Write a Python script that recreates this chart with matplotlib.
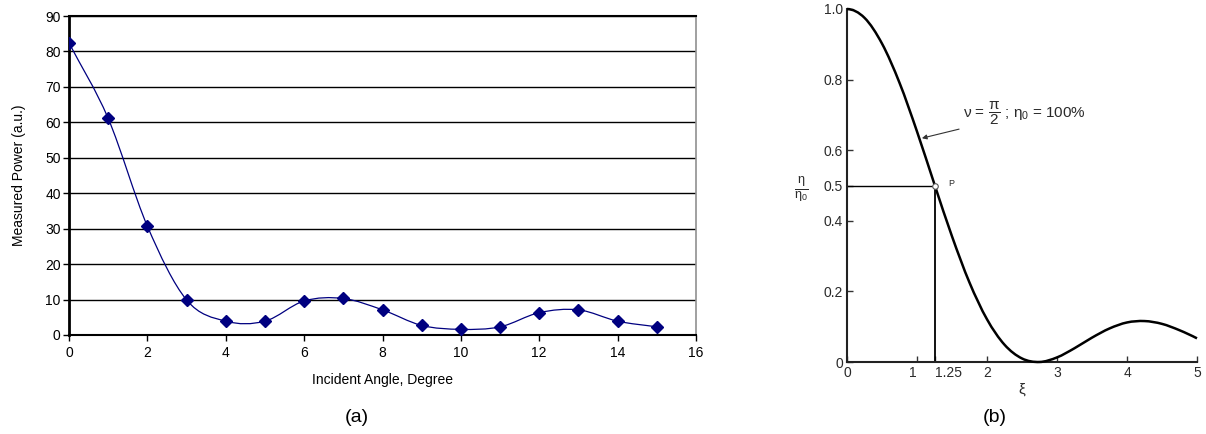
import numpy as np
import matplotlib
matplotlib.use("Agg")
import matplotlib.pyplot as plt
from matplotlib.path import Path
from matplotlib.patches import PathPatch

plt.rcParams['font.family'] = ['Liberation Sans', 'DejaVu Sans']
plt.rcParams['mathtext.fontset'] = 'custom'
plt.rcParams['mathtext.rm'] = 'Liberation Sans'
plt.rcParams['mathtext.it'] = 'Liberation Sans'
plt.rcParams['mathtext.bf'] = 'Liberation Sans:bold'

# ---- data (a) ----
angle = [0, 1, 2, 3, 4, 5, 6, 7, 8, 9, 10, 11, 12, 13, 14, 15]
power = [82.4, 61.1, 30.7, 9.9, 3.9, 3.9, 9.6, 10.3, 7.1, 2.7, 1.6, 2.3, 6.3, 7.1, 3.9, 2.3]
a_xticks = [0, 2, 4, 6, 8, 10, 12, 14, 16]
a_yticks = [0, 10, 20, 30, 40, 50, 60, 70, 80, 90]

# ---- data (b) ----
xi = [0, 0.25, 0.5, 0.75, 1.0, 1.25, 1.5, 1.75, 2.0, 2.25, 2.5, 2.75, 3.0,
      3.25, 3.5, 3.75, 4.0, 4.25, 4.5, 4.75, 5.0]
eta = [1.0, 0.975, 0.902, 0.791, 0.653, 0.503, 0.356, 0.225, 0.121, 0.049, 0.010,
       0.0, 0.013, 0.039, 0.069, 0.095, 0.112, 0.116, 0.108, 0.090, 0.067]
b_xticks = [0, 1, 1.25, 2, 3, 4, 5]
b_xlabels = ['0', '1', '1.25', '2', '3', '4', '5']
b_yticks = [0, 0.2, 0.4, 0.5, 0.6, 0.8, 1.0]
b_ylabels = ['0', '0.2', '0.4', '0.5', '0.6', '0.8', '1.0']
p_xi, p_eta = 1.25, 0.5


def smooth_path(xs, ys, parabolic_ends=False):
    x = np.asarray(xs, float)
    y = np.asarray(ys, float)
    n = len(x)
    m = np.zeros(n)
    for i in range(1, n - 1):
        m[i] = (y[i + 1] - y[i - 1]) / (x[i + 1] - x[i - 1])
    c0 = (y[1] - y[0]) / (x[1] - x[0])
    cn = (y[-1] - y[-2]) / (x[-1] - x[-2])
    if parabolic_ends:
        m[0] = 2 * c0 - m[1]
        m[-1] = 2 * cn - m[-2]
    else:
        m[0] = c0
        m[-1] = cn
    verts = [(x[0], y[0])]
    codes = [Path.MOVETO]
    for i in range(n - 1):
        h = (x[i + 1] - x[i]) / 3.0
        verts += [(x[i] + h, y[i] + h * m[i]),
                  (x[i + 1] - h, y[i + 1] - h * m[i + 1]),
                  (x[i + 1], y[i + 1])]
        codes += [Path.CURVE4] * 3
    return Path(verts, codes)


fig = plt.figure(figsize=(12.06, 4.34), dpi=100)

# ---------------- (a) ----------------
ax = fig.add_axes([69 / 1206, 1 - 335 / 434, 627 / 1206, 319 / 434])
ax.set_xlim(0, 16)
ax.set_ylim(0, 90)
for v in a_yticks[1:]:
    ax.axhline(v, color='black', lw=1.0, zorder=1)
ax.add_patch(PathPatch(smooth_path(angle, power), facecolor='none',
                       edgecolor='#000080', lw=0.9, zorder=3))
ax.plot(angle, power, linestyle='none', marker='D', markersize=6,
        color='#000080', zorder=4)
ax.set_xticks(a_xticks)
ax.set_yticks(a_yticks)
ax.tick_params(axis='both', labelsize=10, direction='out', length=4, width=1, color='black')
ax.tick_params(axis='x', pad=4)
ax.tick_params(axis='y', pad=2)
ax.spines['left'].set_linewidth(2)
ax.spines['bottom'].set_linewidth(1.5)
ax.spines['top'].set_linewidth(1.5)
ax.spines['right'].set_color('#909090')
ax.spines['right'].set_linewidth(1.2)
ax.set_xlabel('Incident Angle, Degree', fontsize=10, labelpad=9)
ax.set_ylabel('Measured Power (a.u.)', fontsize=10, labelpad=14)
fig.text(357 / 1206, 1 - 418 / 434, '(a)', fontsize=14, ha='center', va='center')

# ---------------- (b) ----------------
bx = fig.add_axes([847 / 1206, 1 - 362 / 434, 350 / 1206, 353 / 434])
bx.set_xlim(0, 5)
bx.set_ylim(0, 1.0)
tc = '#2a2a2a'
bx.add_patch(PathPatch(smooth_path(xi, eta, parabolic_ends=True), facecolor='none',
                       edgecolor='black', lw=1.8, zorder=3, clip_on=False))
bx.plot([0, p_xi], [p_eta, p_eta], color='black', lw=1.0)
bx.plot([p_xi, p_xi], [0, p_eta], color='black', lw=1.3)
bx.plot([p_xi], [p_eta], marker='o', markersize=4, markerfacecolor='white',
        markeredgecolor='#555555', markeredgewidth=0.8, zorder=5)
bx.text(p_xi + 0.2, p_eta + 0.005, 'P', fontsize=6.5, color=tc, ha='left', va='center')
for s in ['top', 'right']:
    bx.spines[s].set_visible(False)
for s in ['left', 'bottom']:
    bx.spines[s].set_linewidth(1.5)
    bx.spines[s].set_color('#222222')
bx.set_xticks(b_xticks)
bx.set_xticklabels(b_xlabels)
bx.set_yticks(b_yticks)
bx.set_yticklabels(b_ylabels)
bx.tick_params(axis='both', direction='in', length=4, width=1, labelsize=10,
               labelcolor=tc, color='#333333')
bx.tick_params(axis='x', pad=3)
bx.tick_params(axis='y', pad=3)
xl = bx.get_xticklabels()
xl[1].set_horizontalalignment('right')
xl[2].set_horizontalalignment('left')
bx.set_xlabel(r'$\xi$', fontsize=11, color=tc, labelpad=1)
bx.text(-0.55, p_eta - 0.01, r'$\frac{\eta}{\eta_0}$', fontsize=13, color=tc,
        ha='right', va='center', transform=bx.transData, clip_on=False)
bx.annotate(r'$\nu$ = $\dfrac{\pi}{2}$ ; $\eta_0$ = 100%', xy=(1.07, 0.634),
            xytext=(1.66, 0.705), fontsize=11, color=tc, va='center', ha='left',
            arrowprops=dict(arrowstyle='-|>', color='#333333', lw=0.8,
                            mutation_scale=7, shrinkA=1, shrinkB=0))
fig.text(995 / 1206, 1 - 418 / 434, '(b)', fontsize=14, ha='center', va='center')

fig.savefig('out.png', dpi=100)
